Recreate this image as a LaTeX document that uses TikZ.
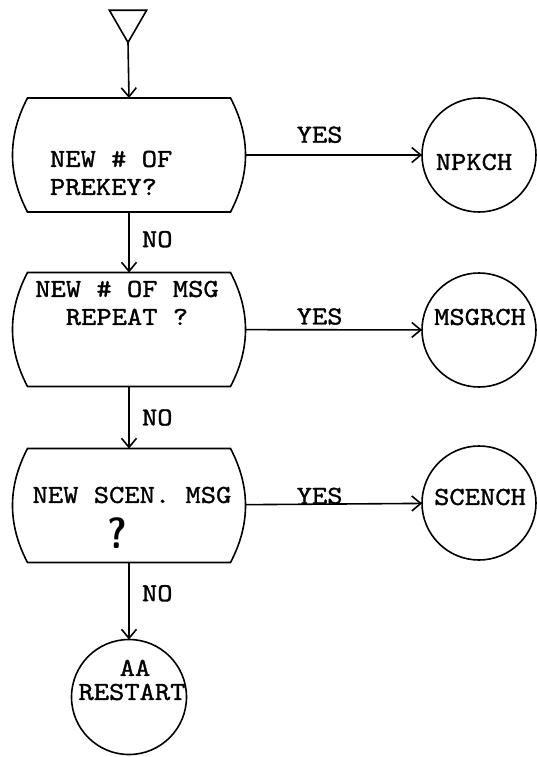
\documentclass[tikz,border=0pt]{standalone}
\usepackage{fontspec}
\newfontfamily\typew{lmmono10-regular.otf}[FakeStretch=1.12, FakeBold=1.2]
\usetikzlibrary{arrows.meta,shapes.geometric}

% outline of a decision box: straight top and bottom, bulging sides
\newcommand\drawdecision[1]{%
  \draw[line width=1.6pt]
    ([xshift=15pt]#1.north west) -- ([xshift=-15pt]#1.north east)
    .. controls +(20,38) and +(20,-38) .. ([xshift=-15pt]#1.south east)
    -- ([xshift=15pt]#1.south west)
    .. controls +(-20,-38) and +(-20,38) .. ([xshift=15pt]#1.north west)
    -- cycle;}

\begin{document}
\begin{tikzpicture}[x=1pt,y=-1pt,
  every node/.style={inner sep=0pt, outer sep=0pt},
  txt/.style={font=\typew\fontsize{26}{28}\selectfont},
  decision/.style={rectangle, minimum width=233pt, minimum height=114pt},
  term/.style={circle, draw, line width=1.6pt, minimum size=114pt},
  arr/.style={line width=1.6pt, -{Straight Barb[length=9pt,width=15pt]}},
]
\useasboundingbox (0,0) rectangle (536,757);

% entry marker
\node[regular polygon, regular polygon sides=3, shape border rotate=180,
      draw, line width=1.6pt, minimum size=43pt] (start) at (128,21) {};

% decision boxes
\node[decision] (b1) at (129,155) {};
\node[decision] (b2) at (129,329.5) {};
\node[decision] (b3) at (129,505.5) {};
\drawdecision{b1}
\drawdecision{b2}
\drawdecision{b3}

\node[txt, anchor=west, align=left] (t1) at (50,173) {NEW \# OF\\PREKEY?};
\node[txt, align=center] (t2) at (127,303) {NEW \# OF MSG\\REPEAT ?};
\node[txt] (t3) at (132,495) {NEW SCEN. MSG};
\node[font=\sffamily\bfseries\fontsize{38}{38}\selectfont, yscale=1.15] (q3) at (117,533) {?};

% connector circles
\node[term] (npkch) at (479,155) {};
\node[txt] (npkcht) at (474,162) {NPKCH};
\node[term] (msgrch) at (479,330) {};
\node[txt] (msgrcht) at (480,317) {MSGRCH};
\node[term] (scench) at (479,503) {};
\node[txt] (scencht) at (480,497) {SCENCH};
\node[term, minimum size=115pt] (restart) at (129,697) {};
\node[txt, align=center, font=\typew\fontsize{26}{24}\selectfont] (restartt) at (132,680) {\hspace*{6pt}AA\\RESTART};

% flow
\draw[arr] (start.south) -- (b1.north);
\draw[arr] (b1.south) -- node[txt, right, xshift=13pt, pos=.45] {NO} (b2.north);
\draw[arr] (b2.south) -- node[txt, right, xshift=13pt] {NO} (b3.north);
\draw[arr] (b3.south) -- node[txt, right, xshift=13pt, pos=.4] {NO} (restart.north);

\draw[arr] (b1) -- node[txt, above, pos=.42, yshift=12pt] {YES} (npkch);
\draw[arr] (b2) -- node[txt, above, pos=.42, yshift=5pt] {YES} (msgrch);
\draw[arr] (b3) -- node[txt, above, pos=.42, yshift=0pt] {YES} (scench);
\end{tikzpicture}
\end{document}
